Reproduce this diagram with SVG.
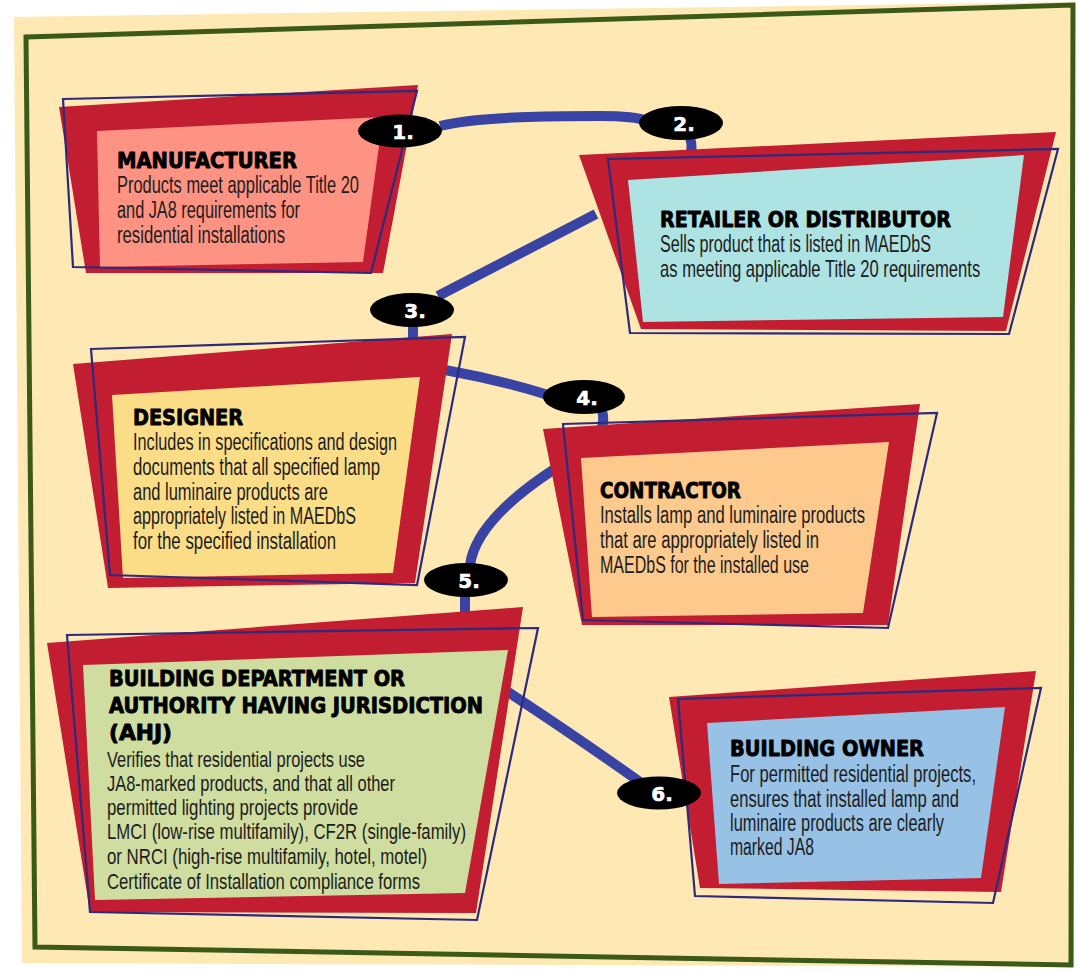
<svg xmlns="http://www.w3.org/2000/svg" width="1078" height="972" viewBox="0 0 1078 972">
<style>
.red{fill:#C21D31}
.ol{fill:none;stroke:#2D2A7E;stroke-width:2.2}
.title{font-family:"DejaVu Sans",sans-serif;font-weight:bold;font-size:21px;fill:#000;stroke:#000;stroke-width:0.9;stroke-linejoin:round}
.body{font-family:"Liberation Sans",Arial,sans-serif;font-size:23px;fill:#1c1c1c}
.sm{font-size:22px}
.con{fill:none;stroke:#3943A3;stroke-width:10;stroke-linecap:butt}
.mk{fill:#000}
.mt{font-family:"DejaVu Sans",sans-serif;font-weight:bold;font-size:20px;fill:#fff;stroke:#fff;stroke-width:0.6;text-anchor:middle}
</style>
<rect width="1078" height="972" fill="#fff"/>
<polygon points="14,17 1074,2 1074,967 22,963" fill="#FEE8B4"/>
<polygon points="26,37 1073,5 1071,965 35,947" fill="none" stroke="#3B5A18" stroke-width="5"/>

<g id="connectors">
<path class="con" d="M440,126 C480,116 560,116 600,116 C625,116 640,118 648,121"/>
<path class="con" d="M690,138 Q694,148 688,160"/>
<path class="con" d="M596,214 L438,296"/>
<path class="con" d="M413,325 L413,342"/>
<path class="con" d="M445,370 Q500,380 548,395"/>
<path class="con" d="M602,411 Q605,420 601,430"/>
<path class="con" d="M553,470 C515,495 475,528 470,565"/>
<path class="con" d="M465,595 L465,614"/>
<path class="con" d="M508,692 Q578,738 640,782"/>
</g>

<g id="manufacturer">
<polygon class="red" points="59,107 418,85 383,273 86,273"/>
<polygon fill="#FE9383" points="97,131 383,117 363,262 100,267"/>
<polygon class="ol" points="63,99 417,91 371,273 73,267"/>
<text class="title" x="117" y="168" textLength="180" lengthAdjust="spacingAndGlyphs">MANUFACTURER</text>
<text class="body" x="117" y="193" textLength="242" lengthAdjust="spacingAndGlyphs">Products meet applicable Title 20</text>
<text class="body" x="117" y="218" textLength="183" lengthAdjust="spacingAndGlyphs">and JA8 requirements for</text>
<text class="body" x="117" y="243" textLength="168" lengthAdjust="spacingAndGlyphs">residential installations</text>
</g>

<g id="retailer">
<polygon class="red" points="579,155 1056,132 1006,331 641,329"/>
<polygon fill="#AEE3E3" points="628,180 1024,155 1003,317 643,322"/>
<polygon class="ol" points="608,159 1058,149 1009,334 630,333"/>
<text class="title" x="660" y="227" textLength="291" lengthAdjust="spacingAndGlyphs">RETAILER OR DISTRIBUTOR</text>
<text class="body" x="660" y="252" textLength="271" lengthAdjust="spacingAndGlyphs">Sells product that is listed in MAEDbS</text>
<text class="body" transform="translate(660,277) scale(0.75,1)" x="0" y="0" textLength="427" lengthAdjust="spacingAndGlyphs">as meeting applicable Title 20 requirements</text>
</g>

<g id="designer">
<polygon class="red" points="73,364 452,334 415,583 108,588"/>
<polygon fill="#FBDD88" points="112,395 420,377 393,573 123,578"/>
<polygon class="ol" points="91,349 465,337 417,585 110,575"/>
<text class="title" x="133" y="425" textLength="110" lengthAdjust="spacingAndGlyphs">DESIGNER</text>
<text class="body" x="133" y="450" textLength="264" lengthAdjust="spacingAndGlyphs">Includes in specifications and design</text>
<text class="body" x="133" y="475" textLength="247" lengthAdjust="spacingAndGlyphs">documents that all specified lamp</text>
<text class="body" x="133" y="500" textLength="195" lengthAdjust="spacingAndGlyphs">and luminaire products are</text>
<text class="body" x="133" y="524" textLength="223" lengthAdjust="spacingAndGlyphs">appropriately listed in MAEDbS</text>
<text class="body" x="133" y="549" textLength="203" lengthAdjust="spacingAndGlyphs">for the specified installation</text>
</g>

<g id="contractor">
<polygon class="red" points="543,429 920,404 888,625 582,625"/>
<polygon fill="#FDC98D" points="581,458 889,442 863,613 592,617"/>
<polygon class="ol" points="563,424 937,413 888,628 583,620"/>
<text class="title" x="600" y="498" textLength="141" lengthAdjust="spacingAndGlyphs">CONTRACTOR</text>
<text class="body" x="600" y="523" textLength="265" lengthAdjust="spacingAndGlyphs">Installs lamp and luminaire products</text>
<text class="body" x="600" y="548" textLength="219" lengthAdjust="spacingAndGlyphs">that are appropriately listed in</text>
<text class="body" x="600" y="573" textLength="209" lengthAdjust="spacingAndGlyphs">MAEDbS for the installed use</text>
</g>

<g id="ahj">
<polygon class="red" points="47,643 523,607 476,913 90,912"/>
<polygon fill="#CFDDA0" points="83,665 508,650 465,893 95,900"/>
<polygon class="ol" points="67,635 538,628 477,920 90,912"/>
<text class="title" x="109" y="686" textLength="296" lengthAdjust="spacingAndGlyphs">BUILDING DEPARTMENT OR</text>
<text class="title" x="109" y="713" textLength="374" lengthAdjust="spacingAndGlyphs">AUTHORITY HAVING JURISDICTION</text>
<text class="title" x="109" y="740" textLength="63" lengthAdjust="spacingAndGlyphs">(AHJ)</text>
<text class="body sm" x="107" y="767" textLength="258" lengthAdjust="spacingAndGlyphs">Verifies that residential projects use</text>
<text class="body sm" x="107" y="791" textLength="288" lengthAdjust="spacingAndGlyphs">JA8-marked products, and that all other</text>
<text class="body sm" x="107" y="815" textLength="251" lengthAdjust="spacingAndGlyphs">permitted lighting projects provide</text>
<text class="body sm" x="107" y="839" textLength="359" lengthAdjust="spacingAndGlyphs">LMCI (low-rise multifamily), CF2R (single-family)</text>
<text class="body sm" x="107" y="864" textLength="320" lengthAdjust="spacingAndGlyphs">or NRCI (high-rise multifamily, hotel, motel)</text>
<text class="body sm" x="107" y="889" textLength="313" lengthAdjust="spacingAndGlyphs">Certificate of Installation compliance forms</text>
</g>

<g id="owner">
<polygon class="red" points="669,697 1036,671 1001,892 700,888"/>
<polygon fill="#97C2E6" points="707,723 1005,707 981,878 719,884"/>
<polygon class="ol" points="678,699 1041,688 993,903 695,896"/>
<text class="title" x="730" y="756" textLength="194" lengthAdjust="spacingAndGlyphs">BUILDING OWNER</text>
<text class="body" x="730" y="782" textLength="246" lengthAdjust="spacingAndGlyphs">For permitted residential projects,</text>
<text class="body" x="730" y="807" textLength="229" lengthAdjust="spacingAndGlyphs">ensures that installed lamp and</text>
<text class="body" x="730" y="831" textLength="214" lengthAdjust="spacingAndGlyphs">luminaire products are clearly</text>
<text class="body" x="730" y="855" textLength="84" lengthAdjust="spacingAndGlyphs">marked JA8</text>
</g>

<g id="step1"><ellipse class="mk" cx="400" cy="131" rx="42" ry="16.5"/><text class="mt" x="403" y="139">1.</text></g>
<g id="step2"><ellipse class="mk" cx="681" cy="123" rx="42" ry="17"/><text class="mt" x="684" y="131">2.</text></g>
<g id="step3"><ellipse class="mk" cx="412" cy="310" rx="42" ry="17"/><text class="mt" x="415" y="318">3.</text></g>
<g id="step4"><ellipse class="mk" cx="584" cy="397" rx="41" ry="17"/><text class="mt" x="587" y="405">4.</text></g>
<g id="step5"><ellipse class="mk" cx="466" cy="580" rx="42" ry="17"/><text class="mt" x="469" y="588">5.</text></g>
<g id="step6"><ellipse class="mk" cx="659" cy="793" rx="42" ry="16.5"/><text class="mt" x="662" y="801">6.</text></g>
</svg>
